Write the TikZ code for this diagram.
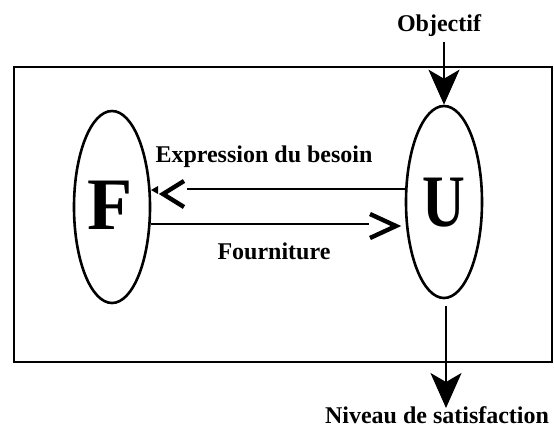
\documentclass[tikz,border=0pt]{standalone}
\usepackage{fontspec}
\setmainfont{Liberation Serif}
\usetikzlibrary{shapes.geometric,arrows.meta}
\begin{document}
\begin{tikzpicture}[x=1pt,y=-1pt,
  oval/.style={ellipse,draw,line width=2.6pt,inner sep=0pt,minimum width=76pt,minimum height=192pt},
  lbl/.style={font=\fontsize{24}{26}\selectfont\bfseries,inner sep=0pt},
  big/.style={font=\fontsize{74}{76}\selectfont\bfseries,inner sep=0pt},
  conn/.style={line width=2.2pt},
  bigtip/.style={-{Stealth[length=35pt,width=31pt,inset=9pt]},line width=2.2pt},
  chev/.style={line width=4.4pt,miter limit=10}]
\useasboundingbox (0,0) rectangle (554,429);
% frame
\draw[line width=2.6pt] (14,67) rectangle (552,362);
% ellipses
\node[oval] (Fe) at (112,207) {};
\node[oval] (Ue) at (444,202) {};
\node[big] (lf) at (110,205) {F};
\node[big,xscale=0.8,transform shape] (lu) at (444,203) {U};
% labels
\node[lbl] (obj) at (439,26) {Objectif};
\node[lbl] (niv) at (437,415) {Niveau de satisfaction};
\node[lbl] (exp) at (264,157) {Expression du besoin};
\node[lbl] (fou) at (274,251) {Fourniture};
% Objectif arrow
\coordinate (objStart) at (444,42);
\draw[bigtip] (objStart) -- (Ue.north);
% satisfaction arrow
\coordinate (nivEnd) at (446,408);
\draw[bigtip] (Ue.south -| nivEnd) ++(0,7) -- (nivEnd);
% expression du besoin
\coordinate (expEnd) at (187,189);
\draw[conn] (Ue.west |- expEnd) -- (expEnd);
\draw[chev] (184,181) -- (163,194) -- (184,207);
\fill (151,190) -- (158,186) -- (158,194) -- cycle;
% fourniture
\coordinate (fouEnd) at (369,224);
\draw[conn] (Fe.east |- fouEnd) -- (fouEnd);
\draw[chev] (370,214) -- (396,226) -- (370,238);
\end{tikzpicture}
\end{document}
